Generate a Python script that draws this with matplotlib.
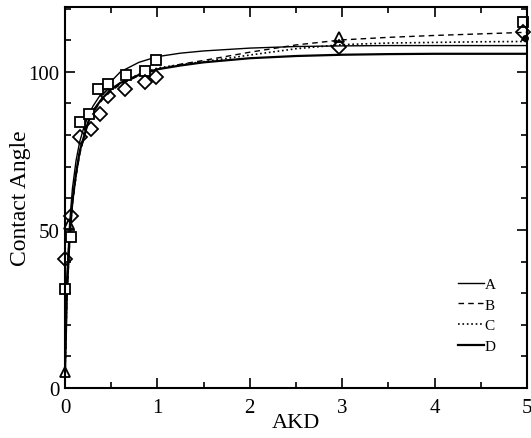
import matplotlib
matplotlib.use("Agg")
import matplotlib.pyplot as plt
from matplotlib.ticker import MultipleLocator

plt.rcParams['font.family'] = ['Liberation Serif', 'DejaVu Serif']

# fitted curves
curve_x = [0, 0.02, 0.05, 0.08, 0.12, 0.16, 0.2, 0.25, 0.3, 0.4, 0.5, 0.6,
           0.8, 1.0, 1.25, 1.5, 2, 2.5, 3, 3.5, 4, 4.5, 5]
curve_a = [5, 35, 52, 63, 72, 78, 82, 86, 89, 93.5, 97, 100,
           103, 104.8, 105.9, 106.6, 107.5, 108.0, 108.2, 108.3, 108.3, 108.3, 108.3]
curve_b = [3, 28, 46, 58, 67, 74, 78.5, 83.5, 87, 91, 94, 96,
           98.8, 100.8, 102.4, 103.6, 106.2, 108.5, 110.1, 110.9, 111.5, 112.0, 112.5]
curve_c = [4, 29, 47, 58.5, 67.5, 74.5, 79, 84, 87.5, 91.5, 94.5, 96.5,
           99.2, 101.2, 102.3, 103.2, 105.3, 107.3, 108.6, 109.1, 109.3, 109.5, 109.6]
curve_d = [5, 30, 48, 59, 68, 75, 79, 84, 87.5, 91.5, 94.5, 96.5,
           99, 100.8, 102.0, 103.0, 104.3, 105.0, 105.4, 105.6, 105.7, 105.7, 105.7]

# measured points
sq_x = [0, 0.07, 0.16, 0.26, 0.36, 0.46, 0.66, 0.87, 0.98, 4.96]
sq_y = [31.3, 47.7, 84.1, 86.7, 94.6, 96.2, 99.0, 100.4, 103.6, 115.7]
dm_x = [0.0, 0.07, 0.16, 0.28, 0.38, 0.47, 0.65, 0.87, 0.98, 2.97, 4.96]
dm_y = [40.8, 54.5, 79.3, 82.0, 86.7, 92.5, 94.6, 96.7, 98.3, 107.8, 112.5]
tr_x = [0.0, 0.04, 2.97]
tr_y = [5.0, 52.0, 111.0]
fc_x = [4.98]
fc_y = [110.7]

fig = plt.figure(figsize=(5.31, 4.39), dpi=100)
ax = fig.add_axes([65 / 531, 1 - 389 / 439, 462 / 531, 381 / 439])

ax.plot(curve_x, curve_a, '-', color='black', lw=1.0, label='A')
ax.plot(curve_x, curve_b, '--', color='black', lw=1.0, dashes=(4, 3), label='B')
ax.plot(curve_x, curve_c, ':', color='black', lw=1.2, label='C')
ax.plot(curve_x, curve_d, '-', color='black', lw=1.6, label='D')

ax.plot(sq_x, sq_y, 's', mfc='white', mec='black', mew=1.3, ms=7.5, clip_on=False)
ax.plot(dm_x, dm_y, 'D', mfc='none', mec='black', mew=1.3, ms=7, clip_on=False)
ax.plot(tr_x, tr_y, '^', mfc='none', mec='black', mew=1.3, ms=7, clip_on=False)
ax.plot(fc_x, fc_y, 'o', mfc='black', mec='black', ms=4, clip_on=False)

ax.set_xlim(0, 5)
ax.set_ylim(0, 120.5)
ax.xaxis.set_major_locator(MultipleLocator(1))
ax.xaxis.set_minor_locator(MultipleLocator(0.5))
ax.yaxis.set_major_locator(MultipleLocator(50))
ax.yaxis.set_minor_locator(MultipleLocator(10))
ax.tick_params(which='both', direction='in', top=True, right=True,
               width=1.2, labelsize=15)
ax.tick_params(axis='y', pad=4)
ax.tick_params(axis='x', pad=7)
ax.tick_params(which='major', length=7.5)
ax.tick_params(which='minor', length=4.3)
for s in ax.spines.values():
    s.set_linewidth(1.5)

ax.set_xlabel('AKD', fontsize=16, labelpad=-3)
ax.set_ylabel('Contact Angle', fontsize=17, labelpad=-2)

ax.legend(loc='upper left', bbox_to_anchor=(0.835, 0.31), frameon=False,
          handlelength=1.7, handletextpad=0.0, labelspacing=0.45,
          fontsize=11, borderpad=0)

fig.savefig('out.png', dpi=100)
